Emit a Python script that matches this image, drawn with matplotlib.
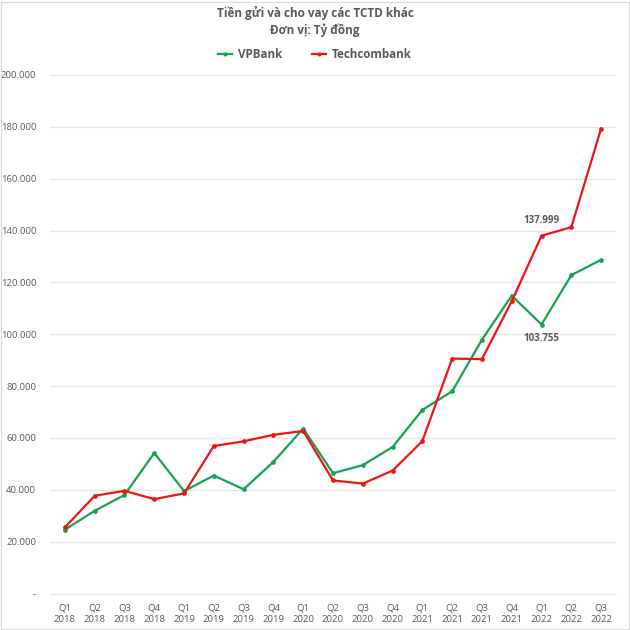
import matplotlib
matplotlib.use("Agg")
import matplotlib.pyplot as plt
from matplotlib.ticker import FuncFormatter, MultipleLocator
from matplotlib.patches import Rectangle

# Data (ty dong)
quarters = ["Q1\n2018", "Q2\n2018", "Q3\n2018", "Q4\n2018",
            "Q1\n2019", "Q2\n2019", "Q3\n2019", "Q4\n2019",
            "Q1\n2020", "Q2\n2020", "Q3\n2020", "Q4\n2020",
            "Q1\n2021", "Q2\n2021", "Q3\n2021", "Q4\n2021",
            "Q1\n2022", "Q2\n2022", "Q3\n2022"]
vpbank = [24600, 31900, 38000, 54200, 39500, 45500, 40200, 50800,
          63600, 46400, 49500, 56500, 70800, 78000, 97900, 114900,
          103755, 122800, 128700]
techcombank = [25500, 37700, 39600, 36400, 38600, 56900, 58700, 61200,
               62700, 43600, 42400, 47400, 58800, 90600, 90400, 112700,
               137999, 141300, 179300]

GREEN = "#16A34F"
RED = "#F01414"
TEXT = "#595959"

plt.rcParams["font.family"] = ["Open Sans", "DejaVu Sans"]

fig = plt.figure(figsize=(6.3, 6.3), dpi=100, facecolor="white")
ax = fig.add_axes([50 / 630, 36.5 / 630, 566 / 630, 518.5 / 630])

x = list(range(len(quarters)))
ax.plot(x, vpbank, color=GREEN, lw=1.6, marker="o", ms=2.4, label="VPBank", zorder=3)
ax.plot(x, techcombank, color=RED, lw=1.6, marker="o", ms=2.4, label="Techcombank", zorder=4)

ax.set_xlim(-0.5, len(quarters) - 0.5)
ax.set_ylim(0, 200000)
ax.yaxis.set_major_locator(MultipleLocator(20000))


def fmt(v, pos):
    if v == 0:
        return "-"
    return f"{int(v):,}".replace(",", ".")


ax.yaxis.set_major_formatter(FuncFormatter(fmt))
ax.set_xticks(x)
ax.set_xticklabels(quarters, linespacing=1.35)
ax.tick_params(axis="both", length=0, colors=TEXT, labelsize=6.8)
ax.tick_params(axis="x", pad=7)
ax.tick_params(axis="y", pad=10)
ax.grid(axis="y", color="#E6E6E6", lw=0.9)
ax.set_axisbelow(True)
for s in ax.spines.values():
    s.set_visible(False)
ax.spines["bottom"].set_visible(True)
ax.spines["bottom"].set_color("#E6E6E6")

# Point labels
i = 16
ax.annotate(fmt(techcombank[i], None), (x[i], techcombank[i]), xytext=(0, 7),
            textcoords="offset points", ha="center", va="bottom",
            fontsize=7, fontweight="bold", color=TEXT)
ax.annotate(fmt(vpbank[i], None), (x[i], vpbank[i]), xytext=(0, -6),
            textcoords="offset points", ha="center", va="top",
            fontsize=7, fontweight="bold", color=TEXT)

# Title and legend
fig.text(0.5, 1 - 13 / 630, "Tiền gửi và cho vay các TCTD khác", ha="center", va="center",
         fontsize=8.5, fontweight="bold", color=TEXT)
fig.text(0.5, 1 - 30 / 630, "Đơn vị: Tỷ đồng", ha="center", va="center",
         fontsize=8.5, fontweight="bold", color=TEXT)
fig.legend(loc="center", bbox_to_anchor=(0.5, 1 - 55 / 630), ncol=2, frameon=False,
           labelcolor=TEXT, handlelength=1.2, columnspacing=2.6, markerscale=0.8,
           handletextpad=0.5, prop={"weight": "bold", "size": 8.4})

fig.patches.append(Rectangle((0.002, 0.002), 0.996, 0.995, transform=fig.transFigure,
                             fill=False, edgecolor="#D9D9D9", lw=0.8))

fig.savefig("out.png", dpi=100, facecolor="white")
